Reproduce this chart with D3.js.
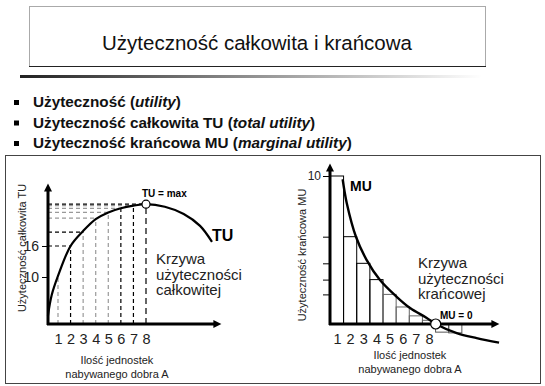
<!DOCTYPE html>
<html>
<head>
<meta charset="utf-8">
<script src="https://cdn.jsdelivr.net/npm/d3@7"></script>
<style>
  body { margin: 0; background: #fff; }
  svg { display: block; font-family: "Liberation Sans", Arial, sans-serif; }
</style>
</head>
<body>
<div id="chart"></div>
<script>
// values
const units = [1, 2, 3, 4, 5, 6, 7, 8];
const tuValues = [10, 16, 18.7, 21.4, 22.5, 23.3, 23.8, 24.1];
const tuTicks = [10, 16];
const tuCurveX = [0.2, 0.5, 1, 2, 3, 4, 5, 6, 7, 8, 9.5, 11, 12.3, 13.25];
const tuCurveY = [2.5, 6.5, 10.2, 16, 18.9, 21.2, 22.5, 23.3, 23.8, 24.1, 23.6, 22.2, 19.9, 16.8];

const muValues = [10, 5.9, 4.1, 3.0, 2.0, 1.15, 0.55, 0.25];
const muBelowUnits = [9, 10];
const muBelowValues = [-0.55, -0.6];
const muTicks = [10, 5.9, 4.1, 3.0, 2.0];
const muCurveX = [1.43, 1.74, 2.45, 3.26, 4.27, 5.54, 6.56, 7.83, 8.51, 10.11, 11.63, 13.33];
const muCurveY = [9.78, 8.18, 5.88, 4.32, 2.97, 1.84, 1.08, 0.41, 0, -0.61, -0.95, -1.26];

const title = "Użyteczność całkowita i krańcowa";
const bullets = [
  [["Użyteczność (", false], ["utility", true], [")", false]],
  [["Użyteczność całkowita TU (", false], ["total utility", true], [")", false]],
  [["Użyteczność krańcowa MU (", false], ["marginal utility", true], [")", false]]
];
const xTitle = ["Ilość jednostek", "nabywanego dobra A"];
const tuNote = ["Krzywa", "użyteczności", "całkowitej"];
const muNote = ["Krzywa", "użyteczności", "krańcowej"];

const W = 545, H = 386;
const svg = d3.select("#chart").append("svg")
  .attr("width", W).attr("height", H)
  .attr("viewBox", `0 0 ${W} ${H}`);

const defs = svg.append("defs");
const grad = defs.append("linearGradient").attr("id", "rule");
grad.append("stop").attr("offset", "0%").attr("stop-color", "#222");
grad.append("stop").attr("offset", "100%").attr("stop-color", "#fff");
defs.append("marker")
  .attr("id", "arrow")
  .attr("viewBox", "0 0 10 10")
  .attr("refX", 2).attr("refY", 5)
  .attr("markerUnits", "userSpaceOnUse")
  .attr("markerWidth", 9).attr("markerHeight", 8)
  .attr("orient", "auto")
  .append("path").attr("d", "M0,0L10,5L0,10Z").attr("fill", "#000");

// header
svg.append("rect").attr("x", 29.5).attr("y", 6.5).attr("width", 456).attr("height", 60)
  .attr("fill", "#fff").attr("stroke", "#aaa");
svg.append("line").attr("x1", 29).attr("x2", 486).attr("y1", 66.5).attr("y2", 66.5)
  .attr("stroke", "#222");
svg.append("text").attr("x", 257).attr("y", 50).attr("text-anchor", "middle")
  .attr("font-size", 20.5).attr("fill", "#111").text(title);
svg.append("rect").attr("x", 20).attr("y", 75).attr("width", 462).attr("height", 3)
  .attr("fill", "url(#rule)");

// bullets
bullets.forEach((parts, i) => {
  const y = 107 + i * 20.5;
  svg.append("rect").attr("x", 14).attr("y", y - 7).attr("width", 5).attr("height", 5).attr("fill", "#000");
  const t = svg.append("text").attr("x", 33).attr("y", y)
    .attr("font-size", 15.3).attr("font-weight", "bold").attr("fill", "#111");
  parts.forEach(([s, it]) => t.append("tspan").attr("font-style", it ? "italic" : "normal").text(s));
});

// frame around both charts
svg.append("rect").attr("x", 5.5).attr("y", 155.5).attr("width", 535).attr("height", 228)
  .attr("fill", "none").attr("stroke", "#444");

// ---------- total utility ----------
const xT = d3.scaleLinear().domain([1, 8]).range([58, 146]);
const yT = d3.scaleLinear().domain([10, 16]).range([277, 246]);
const tOrigin = { x: 48, y: 324 };
const tuPoints = tuCurveX.map((x, i) => [x, tuCurveY[i]]);
const darkV = new Set([2, 6, 7, 8]);
const darkH = new Set([2, 3, 8]);

const gT = svg.append("g");
units.forEach((u, i) => {
  const px = xT(u), py = yT(tuValues[i]);
  gT.append("line").attr("x1", px).attr("x2", px).attr("y1", tOrigin.y).attr("y2", py)
    .attr("stroke", darkV.has(u) ? "#000" : "#999").attr("stroke-width", 1.2)
    .attr("stroke-dasharray", u === 8 ? "6,4" : "4,3");
  if (u > 1) {
    gT.append("line").attr("x1", tOrigin.x).attr("x2", px).attr("y1", py).attr("y2", py)
      .attr("stroke", darkH.has(u) ? "#000" : "#999").attr("stroke-width", 1.2)
      .attr("stroke-dasharray", "4,3");
  }
});

gT.append("path")
  .attr("d", d3.line().x(d => xT(d[0])).y(d => yT(d[1])).curve(d3.curveCatmullRom.alpha(0.5))(tuPoints))
  .attr("fill", "none").attr("stroke", "#000").attr("stroke-width", 2.2);

gT.append("g").attr("transform", `translate(0,${tOrigin.y})`)
  .call(d3.axisBottom(xT).tickValues(units).tickFormat(d3.format("d")).tickSize(0).tickPadding(10))
  .call(g => g.select(".domain").remove())
  .call(g => g.selectAll("text").attr("font-size", 14.5).attr("font-family", "inherit").attr("fill", "#222"));

gT.append("g").attr("transform", `translate(${tOrigin.x},0)`)
  .call(d3.axisLeft(yT).tickValues(tuTicks).tickFormat(d3.format("d")).tickSize(6).tickPadding(3))
  .call(g => g.select(".domain").remove())
  .call(g => g.selectAll("line").attr("stroke", "#000"))
  .call(g => g.selectAll("text").attr("font-size", 14).attr("font-family", "inherit").attr("fill", "#222"));

gT.append("line").attr("x1", tOrigin.x).attr("x2", tOrigin.x).attr("y1", tOrigin.y + 1).attr("y2", 190)
  .attr("stroke", "#000").attr("stroke-width", 3).attr("marker-end", "url(#arrow)");
gT.append("line").attr("x1", tOrigin.x - 1).attr("x2", 215).attr("y1", tOrigin.y).attr("y2", tOrigin.y)
  .attr("stroke", "#000").attr("stroke-width", 3).attr("marker-end", "url(#arrow)");

gT.append("circle").attr("cx", xT(8)).attr("cy", yT(tuValues[7])).attr("r", 4)
  .attr("fill", "#fff").attr("stroke", "#000").attr("stroke-width", 1.2);
gT.append("text").attr("x", 142).attr("y", 197).attr("font-size", 10).attr("font-weight", "bold")
  .text("TU = max");
gT.append("text").attr("x", 212).attr("y", 241).attr("font-size", 16).attr("font-weight", "bold")
  .text("TU");
tuNote.forEach((s, i) => gT.append("text").attr("x", 156).attr("y", 264 + i * 15.5)
  .attr("font-size", 15).attr("fill", "#222").text(s));
gT.append("text").attr("transform", "translate(26,248) rotate(-90)").attr("text-anchor", "middle")
  .attr("font-size", 11).attr("fill", "#222").text("Użyteczność całkowita TU");
xTitle.forEach((s, i) => gT.append("text").attr("x", 117).attr("y", 364 + i * 13.5)
  .attr("text-anchor", "middle").attr("font-size", 11).attr("fill", "#222").text(s));

// ---------- marginal utility ----------
const xM = d3.scaleLinear().domain([1, 8]).range([337, 429]);
const yM = d3.scaleLinear().domain([0, 10]).range([324, 176]);
const mOrigin = { x: 330, y: 324 };
const muPoints = muCurveX.map((x, i) => [x, muCurveY[i]]);

const gM = svg.append("g");
units.forEach((u, i) => {
  const x0 = Math.max(xM(u - 0.5), mOrigin.x), x1 = xM(u + 0.5);
  gM.append("rect").attr("x", x0).attr("y", yM(muValues[i]))
    .attr("width", x1 - x0).attr("height", yM(0) - yM(muValues[i]))
    .attr("fill", "none").attr("stroke", u < 5 ? "#000" : "#666").attr("stroke-width", 1);
});
muBelowUnits.forEach((u, i) => {
  gM.append("rect").attr("x", xM(u - 0.5)).attr("y", yM(0))
    .attr("width", xM(u + 0.5) - xM(u - 0.5)).attr("height", yM(muBelowValues[i]) - yM(0))
    .attr("fill", "none").attr("stroke", "#555").attr("stroke-width", 1);
});

gM.append("path")
  .attr("d", d3.line().x(d => xM(d[0])).y(d => yM(d[1])).curve(d3.curveCatmullRom.alpha(0.5))(muPoints))
  .attr("fill", "none").attr("stroke", "#000").attr("stroke-width", 2.4);

gM.append("g").attr("transform", `translate(0,${mOrigin.y})`)
  .call(d3.axisBottom(xM).tickValues(units).tickFormat(d3.format("d")).tickSize(0).tickPadding(10))
  .call(g => g.select(".domain").remove())
  .call(g => g.selectAll("text").attr("font-size", 14.5).attr("font-family", "inherit").attr("fill", "#222"));

gM.append("g").attr("transform", `translate(${mOrigin.x},0)`)
  .call(d3.axisLeft(yM).tickValues(muTicks).tickSize(7).tickPadding(2)
    .tickFormat(d => d === 10 ? "10" : ""))
  .call(g => g.select(".domain").remove())
  .call(g => g.selectAll("line").attr("stroke", "#000"))
  .call(g => g.selectAll("text").attr("font-size", 12).attr("font-family", "inherit").attr("fill", "#222"));

gM.append("line").attr("x1", mOrigin.x).attr("x2", mOrigin.x).attr("y1", mOrigin.y + 1).attr("y2", 170)
  .attr("stroke", "#000").attr("stroke-width", 3).attr("marker-end", "url(#arrow)");
gM.append("line").attr("x1", mOrigin.x - 1).attr("x2", 493).attr("y1", mOrigin.y).attr("y2", mOrigin.y)
  .attr("stroke", "#000").attr("stroke-width", 3).attr("marker-end", "url(#arrow)");

gM.append("circle").attr("cx", xM(8.51)).attr("cy", yM(0)).attr("r", 5)
  .attr("fill", "#fff").attr("stroke", "#000").attr("stroke-width", 1.2);
gM.append("text").attr("x", 440).attr("y", 319).attr("font-size", 10).attr("font-weight", "bold")
  .text("MU = 0");
gM.append("text").attr("x", 350).attr("y", 191).attr("font-size", 14).attr("font-weight", "bold")
  .text("MU");
muNote.forEach((s, i) => gM.append("text").attr("x", 418).attr("y", 268 + i * 15.5)
  .attr("font-size", 15).attr("fill", "#222").text(s));
gM.append("text").attr("transform", "translate(306,255) rotate(-90)").attr("text-anchor", "middle")
  .attr("font-size", 11).attr("fill", "#222").text("Użyteczność krańcowa MU");
xTitle.forEach((s, i) => gM.append("text").attr("x", 410).attr("y", 359 + i * 13.5)
  .attr("text-anchor", "middle").attr("font-size", 11).attr("fill", "#222").text(s));
</script>
</body>
</html>
